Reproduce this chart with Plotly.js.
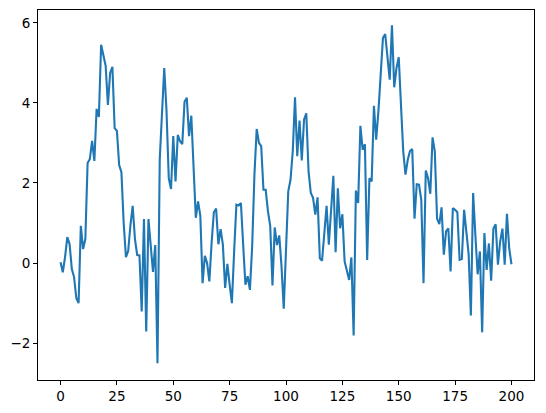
<!DOCTYPE html>
<html>
<head>
<meta charset="utf-8">
<script src="https://cdn.plot.ly/plotly-3.0.1.min.js"></script>
<style>html,body{margin:0;padding:0;background:#fff;}#chart{width:546px;height:413px;}</style>
</head>
<body>
<div id="chart"></div>
<script>
// Series values (index 0..200)
const values = [
  0.02, -0.23, 0.15, 0.65, 0.48, -0.15, -0.35, -0.88, -1.0, 0.93,
  0.35, 0.6, 2.5, 2.6, 3.05, 2.55, 3.85, 3.65, 5.45, 5.2,
  4.93, 3.95, 4.75, 4.9, 3.37, 3.3, 2.45, 2.27, 1.0, 0.15,
  0.3, 0.95, 1.43, 0.6, 0.2, 0.19, -1.21, 1.1, -1.71, 1.1,
  0.45, -0.22, 0.45, -2.5, 2.6, 3.8, 4.87, 3.8, 2.12, 1.85,
  3.17, 2.04, 3.2, 3.04, 2.97, 4.03, 4.13, 3.17, 3.68, 2.4,
  1.13, 1.54, 1.18, -0.5, 0.18, 0.0, -0.46, 0.5, 1.27, 1.36,
  0.47, 0.85, 0.46, -0.62, -0.02, -0.54, -1.0, 0.3, 1.46, 1.44,
  1.5, 0.46, -0.54, -0.33, -0.67, 0.42, 2.21, 3.35, 3.0, 2.92,
  1.83, 1.83, 1.29, 0.93, -0.56, 0.89, 0.45, 0.69, -0.07, -1.14,
  0.4, 1.79, 2.08, 2.79, 4.14, 2.67, 3.56, 2.56, 3.58, 3.74,
  2.29, 1.75, 1.63, 1.21, 1.64, 0.12, 0.06, 0.87, 1.43, 0.46,
  1.21, 2.18, 0.27, 1.87, 0.87, 1.22, 0.04, -0.17, -0.42, 0.14,
  -1.81, 1.81, 1.5, 3.43, 2.83, 2.97, 0.08, 2.12, 2.04, 3.93,
  3.08, 3.8, 4.58, 5.62, 5.72, 5.12, 4.58, 5.94, 4.39, 4.87,
  5.14, 3.95, 2.79, 2.21, 2.58, 2.8, 2.85, 1.11, 1.97, 1.96,
  1.58, -0.5, 2.31, 2.12, 1.73, 3.14, 2.79, 1.11, 0.97, 1.39,
  0.21, 0.79, 0.87, -0.21, 1.37, 1.33, 1.27, 0.08, 0.1, 1.33,
  0.7, 0.23, -1.31, 1.75, 0.7, -0.28, 0.29, -1.73, 0.75, -0.17,
  0.49, -0.44, 0.86, 0.97, -0.04, 0.54, 0.86, -0.04, 1.23, 0.37,
  -0.03
];
const xIndex = values.map((_, i) => i);
const xTicks = [0, 25, 50, 75, 100, 125, 150, 175, 200];
const yTicks = [-2, 0, 2, 4, 6];

const trace = {
  x: xIndex,
  y: values,
  type: 'scatter',
  mode: 'lines',
  line: {color: '#1f77b4', width: 2.1},
  hoverinfo: 'skip'
};

const axisCommon = {
  showgrid: false,
  zeroline: false,
  showline: true,
  mirror: true,
  linecolor: '#000',
  linewidth: 1,
  ticks: 'outside',
  ticklen: 4,
  tickwidth: 1,
  tickcolor: '#000',
  tickfont: {family: 'DejaVu Sans', size: 13.5, color: '#000'}
};

const layout = {
  width: 546,
  height: 413,
  margin: {l: 38, r: 12, t: 10, b: 33, pad: 0},
  paper_bgcolor: '#fff',
  plot_bgcolor: '#fff',
  showlegend: false,
  xaxis: Object.assign({}, axisCommon, {
    range: [-10, 210],
    tickvals: xTicks,
    ticktext: xTicks.map(String)
  }),
  yaxis: Object.assign({}, axisCommon, {
    range: [-2.92, 6.32],
    tickvals: yTicks,
    ticktext: yTicks.map(v => v < 0 ? '\u2212' + Math.abs(v) : String(v))
  })
};

Plotly.newPlot('chart', [trace], layout, {displayModeBar: false, staticPlot: true});
</script>
</body>
</html>
